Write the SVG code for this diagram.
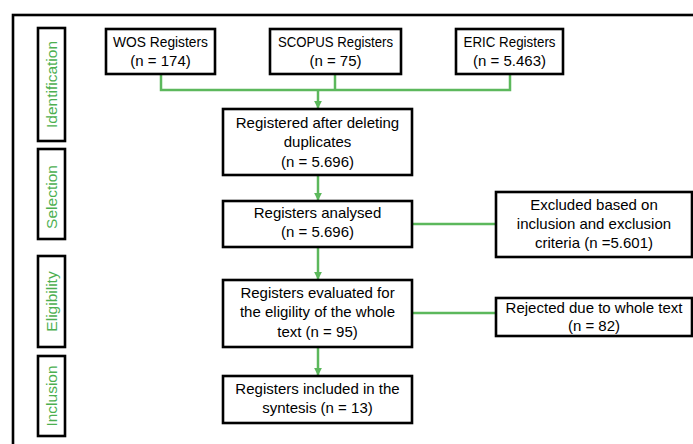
<svg xmlns="http://www.w3.org/2000/svg" width="693" height="444" viewBox="0 0 693 444">
<style>
.box{fill:#fff;stroke:#000;stroke-width:2.6}
.t{font-family:"Liberation Sans",Arial,sans-serif;font-size:15px;fill:#000;text-anchor:middle}
.s{font-family:"Liberation Sans",Arial,sans-serif;font-size:15.5px;fill:#4caf50;text-anchor:middle}
.c{fill:none;stroke:#5cb85c;stroke-width:2.5}
</style>
<defs>
<marker id="ah" viewBox="0 0 10 10" refX="9" refY="5" markerWidth="3.2" markerHeight="3.2" orient="auto" markerUnits="strokeWidth">
<path d="M0,0 L10,5 L0,10 z" fill="#5cb85c"/>
</marker>
</defs>
<rect width="693" height="444" fill="#fff"/>
<rect x="13" y="15" width="700" height="450" fill="none" stroke="#000" stroke-width="2.6"/>

<g id="stage-identification"><rect class="box" x="38" y="28" width="27" height="113"/><text class="s" transform="translate(56.5,84.5) rotate(-90)">Identification</text></g>
<g id="stage-selection"><rect class="box" x="38" y="149" width="27" height="90"/><text class="s" transform="translate(56.5,197) rotate(-90)">Selection</text></g>
<g id="stage-eligibility"><rect class="box" x="38" y="256" width="27" height="91"/><text class="s" transform="translate(56.5,301.5) rotate(-90)">Eligibility</text></g>
<g id="stage-inclusion"><rect class="box" x="38" y="356" width="27" height="80"/><text class="s" transform="translate(56.5,396) rotate(-90)">Inclusion</text></g>

<g id="connectors">
<path class="c" d="M161,74 V90 H510 V74"/>
<path class="c" d="M335,74 V90"/>
<path class="c" d="M318,90 V108" marker-end="url(#ah)"/>
<path class="c" d="M318,175 V200" marker-end="url(#ah)"/>
<path class="c" d="M318,247 V279" marker-end="url(#ah)"/>
<path class="c" d="M318,347 V375" marker-end="url(#ah)"/>
<path class="c" d="M412,224 H496"/>
<path class="c" d="M412,313 H496"/>
</g>

<g id="wos"><rect class="box" x="106" y="29" width="109" height="45"/><text class="t" x="160.5" y="47" textLength="95" lengthAdjust="spacingAndGlyphs">WOS Registers</text><text class="t" x="160.5" y="66">(n = 174)</text></g>
<g id="scopus"><rect class="box" x="270" y="29" width="131" height="45"/><text class="t" x="335.5" y="47" textLength="115" lengthAdjust="spacingAndGlyphs">SCOPUS Registers</text><text class="t" x="335.5" y="66">(n = 75)</text></g>
<g id="eric"><rect class="box" x="456" y="29" width="107" height="45"/><text class="t" x="509.5" y="47" textLength="92" lengthAdjust="spacingAndGlyphs">ERIC Registers</text><text class="t" x="509.5" y="66">(n = 5.463)</text></g>

<g id="deduplicated"><rect class="box" x="223" y="109" width="189" height="66"/><text class="t" x="317.5" y="128">Registered after deleting</text><text class="t" x="317.5" y="147">duplicates</text><text class="t" x="317.5" y="167">(n = 5.696)</text></g>
<g id="analysed"><rect class="box" x="223" y="201" width="189" height="46"/><text class="t" x="317.5" y="218">Registers analysed</text><text class="t" x="317.5" y="237">(n = 5.696)</text></g>
<g id="evaluated"><rect class="box" x="223" y="280" width="189" height="67"/><text class="t" x="317.5" y="298">Registers evaluated for</text><text class="t" x="317.5" y="317">the eligility of the whole</text><text class="t" x="317.5" y="337">text (n = 95)</text></g>
<g id="included"><rect class="box" x="223" y="376" width="189" height="47"/><text class="t" x="317.5" y="394">Registers included in the</text><text class="t" x="317.5" y="413">syntesis (n = 13)</text></g>

<g id="excluded"><rect class="box" x="496" y="192" width="196" height="65"/><text class="t" x="594" y="210">Excluded based on</text><text class="t" x="594" y="229">inclusion and exclusion</text><text class="t" x="594" y="248">criteria (n =5.601)</text></g>
<g id="rejected"><rect class="box" x="496" y="298" width="196" height="38"/><text class="t" x="594" y="313">Rejected due to whole text</text><text class="t" x="594" y="331">(n = 82)</text></g>
</svg>
